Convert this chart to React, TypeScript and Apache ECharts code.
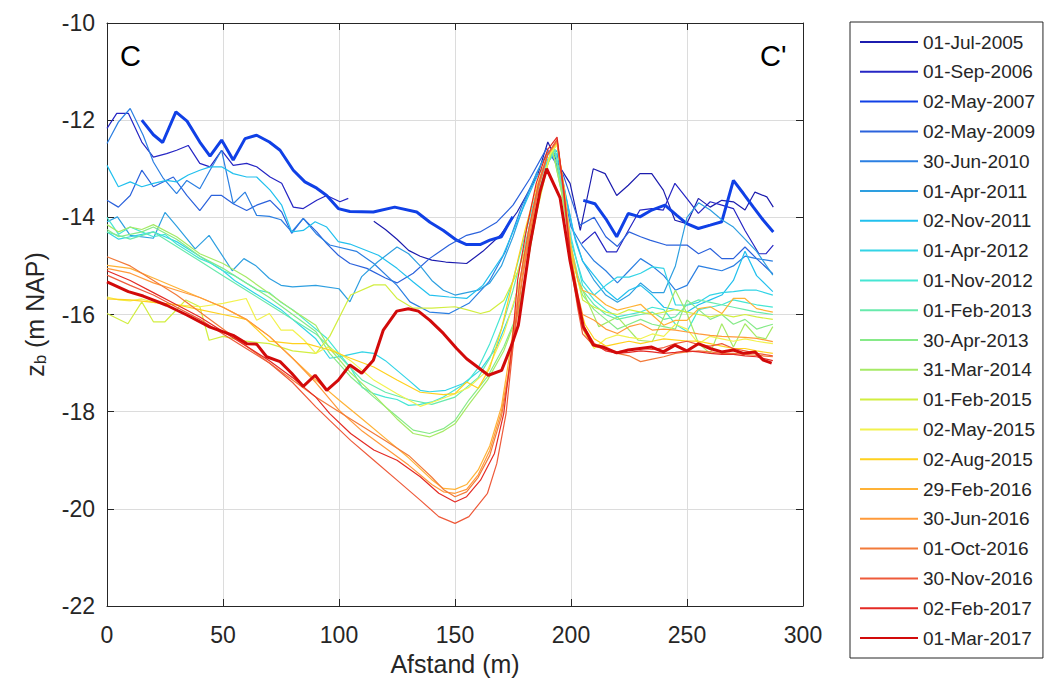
import React, { useEffect, useRef } from "react";
import * as echarts from "echarts";

type Pt = [number, number] | null;

// ---- data (x = Afstand in m, y = z_b in m NAP) ----
const dateLabels = [
  "01-Jul-2005", "01-Sep-2006", "02-May-2007", "02-May-2009", "30-Jun-2010",
  "01-Apr-2011", "02-Nov-2011", "01-Apr-2012", "01-Nov-2012", "01-Feb-2013",
  "30-Apr-2013", "31-Mar-2014", "01-Feb-2015", "02-May-2015", "02-Aug-2015",
  "29-Feb-2016", "30-Jun-2016", "01-Oct-2016", "30-Nov-2016", "02-Feb-2017",
  "01-Mar-2017",
];

const xTicks = [0, 50, 100, 150, 200, 250, 300];
const yTicks = [-22, -20, -18, -16, -14, -12, -10];

const jul2005: Pt[] = [[115,-14.08],[120,-14.25],[125,-14.45],[130,-14.68],[135,-14.8],[140,-14.88],[146,-14.92],[155,-14.95],[162,-14.7],[169.5,-14.37],[176.8,-13.89],[185.6,-13.13],[190,-12.45],[195,-12.95],[199.6,-13.3],[204,-14.27],[209.6,-13.0],[214.7,-13.1],[219.7,-13.55],[224.7,-13.34],[229.7,-13.1],[234.8,-13.1],[239.8,-13.44],[244.8,-14.06],[249.9,-14.13],[254.9,-13.61],[260,-13.79],[265,-13.65],[270,-13.68],[275,-13.85],[279.3,-13.48],[284.4,-13.58],[287.2,-13.79]];
const sep2006: Pt[] = [[0,-12.17],[4.2,-11.86],[9.2,-11.86],[15,-12.45],[20,-12.76],[25.7,-12.69],[30,-12.62],[35,-12.52],[40,-12.89],[44.4,-12.96],[49.4,-12.62],[54.4,-12.93],[60.2,-12.89],[64.5,-12.96],[70.3,-13.17],[75.3,-13.3],[80.3,-13.79],[84.6,-13.82],[90.4,-13.65],[94.7,-13.55],[100.4,-13.68],[104,-13.61],null,[204.6,-14.54],[210.3,-14.3],[215.4,-14.71],[219.7,-14.71],[224.7,-14.27],[229.7,-13.85],[234.8,-13.82],[239.8,-13.85],[244.8,-13.3],[249.9,-13.61],[254.9,-13.92],[260,-13.68],[265,-13.75],[270,-13.82],[275,-14.27],[281,-14.75],[284,-14.75],[287.2,-14.57]];
const may2007: Pt[] = [[15,-12.0],[20,-12.3],[24,-12.46],[29.7,-11.83],[34.5,-12.02],[40,-12.45],[44.4,-12.74],[49.4,-12.41],[54.4,-12.82],[59.5,-12.38],[64.5,-12.31],[70,-12.45],[74.6,-12.62],[80.3,-13.03],[85.3,-13.27],[90.4,-13.4],[94.7,-13.55],[99.7,-13.82],[104.7,-13.88],[114.8,-13.89],[124,-13.79],[133.5,-13.89],[139.2,-14.1],[145,-14.27],[150.7,-14.47],[155,-14.56],[160.8,-14.56],[165,-14.47],[170,-14.4],[172.3,-14.2],[174.9,-13.99],null,[205.3,-13.65],[210.3,-13.72],[215.4,-14.06],[219.7,-14.4],[224.7,-13.92],[229.7,-13.99],[234.8,-13.85],[240.5,-13.75],[245.6,-13.96],[249.9,-14.13],[254.9,-14.23],[260,-14.16],[265,-14.09],[270,-13.24],[274.3,-13.51],[278.6,-13.79],[282.9,-14.06],[287.2,-14.3]];
const may2009: Pt[] = [[0,-13.65],[4.9,-13.79],[10,-13.55],[15,-13.03],[20,-13.37],[28.6,-13.17],[34.4,-13.55],[40,-13.86],[45,-13.55],[49.4,-13.55],[54.4,-13.72],[60.2,-13.86],[64.5,-13.75],[70.3,-13.65],[75.3,-13.89],[79.6,-14.33],[84.6,-14.02],[90.4,-14.3],[94.7,-14.54],[99.7,-14.78],[104.7,-14.95],[112,-15.05],[120,-15.25],[125,-15.35],[132,-15.15],[139,-14.85],[147.5,-14.57],[155,-14.37],[160.8,-14.3],[168,-14.1],[175,-13.75],[182.3,-13.2],[189.5,-12.58],[196.7,-13.13],[203.9,-14.16],[210,-14.0],[215,-14.4],[220,-14.6],[225,-14.3],[230,-14.4],[234,-14.47],[241,-14.57],[250,-14.57],[255,-14.75],[260,-14.64],[265,-14.85],[270,-14.85],[275,-14.61],[280,-14.85],[287,-15.16]];
const jun2010: Pt[] = [[0,-12.48],[4.9,-12.04],[10,-11.76],[15.6,-12.31],[20,-12.86],[24.3,-13.2],[30,-13.51],[34.4,-13.24],[40,-13.41],[44.4,-13.03],[49.4,-12.62],[54.4,-13.72],[59.5,-13.48],[64.5,-13.96],[70,-13.98],[75,-14.05],[79.6,-14.3],[84.6,-14.02],[90.4,-14.35],[96,-14.57],[107.5,-14.7],[115,-14.95],[125,-15.4],[130.6,-15.74],[139,-15.95],[147.5,-15.98],[156,-15.77],[164.6,-15.33],[171.7,-14.71],[178.9,-13.75],[187.5,-12.86],[191.8,-12.62],[196,-13.3],[200,-14.2],[205,-14.6],[210,-14.9],[215,-15.1],[220,-15.35],[225,-15.1],[230,-14.85],[235,-15.0],[240,-15.2],[245,-15.5],[250,-15.4],[255,-15.0],[260,-15.05],[265,-15.1],[270,-15.0],[275,-14.8],[280,-14.85],[287,-14.9]];
const apr2011: Pt[] = [[0,-14.09],[4.5,-13.99],[10,-14.37],[20,-14.43],[25,-13.9],[30,-14.18],[38,-14.65],[44,-14.37],[54,-15.1],[59,-14.85],[64,-14.99],[70,-15.26],[75,-15.4],[80,-15.43],[90,-15.4],[100,-15.47],[104.7,-15.74],[109.8,-15.22],[116.6,-14.92],[125,-14.61],[130,-14.75],[135,-15.0],[140,-15.3],[145,-15.5],[150,-15.6],[155,-15.55],[160,-15.5],[165,-15.35],[170,-15.0],[175,-14.4],[180,-13.7],[185,-13.1],[190,-12.65],[194,-12.7],[197,-13.4],[201,-14.3],[205,-14.9],[210,-15.3],[215,-15.6],[220,-15.75],[225,-15.6],[230,-15.35],[235,-15.55],[240,-15.55],[245,-15.0],[250,-14.0],[255,-13.7],[260,-13.85],[265,-14.05],[270,-14.2],[275,-14.45],[280,-14.7],[287,-15.19]];
const nov2011: Pt[] = [[0,-12.93],[4.9,-13.37],[10,-13.27],[15,-13.37],[20,-13.3],[25.7,-13.24],[30,-13.27],[35,-13.13],[40,-13.03],[44.4,-12.96],[49.4,-12.96],[54.4,-13.1],[60.2,-13.17],[64.5,-13.17],[70.3,-13.44],[75.3,-13.75],[79.6,-14.3],[84.6,-14.27],[89.7,-14.09],[94.7,-14.2],[99.7,-14.5],[104.7,-14.55],[117,-14.78],[125,-15.05],[132,-15.33],[139,-15.6],[147.5,-15.64],[155,-15.67],[162,-15.4],[170.7,-14.78],[178,-13.96],[185.6,-13.13],[194,-12.62],[198,-13.6],[202,-14.5],[205,-14.9],[210,-15.2],[215,-15.5],[220,-15.7],[225,-15.5],[230,-15.4],[235,-15.6],[240,-15.85],[245,-15.9],[250,-15.95],[255,-15.8],[260,-15.7],[265,-15.6],[270,-15.3],[275,-14.7],[280,-15.2],[287,-15.53]];
const apr2012: Pt[] = [[0,-14.3],[5,-14.45],[10,-14.4],[15,-14.35],[20,-14.3],[25,-14.4],[30,-14.5],[35,-14.65],[40,-14.8],[45,-14.95],[50,-15.1],[55,-15.3],[60,-15.45],[65,-15.6],[70,-15.75],[75,-15.9],[80,-16.1],[85,-16.3],[90,-16.5],[96,-16.9],[102,-16.85],[110,-16.77],[115,-16.8],[120,-16.95],[125,-17.15],[130,-17.35],[135,-17.56],[139,-17.59],[146,-17.56],[153.6,-17.42],[160.8,-17.15],[168,-16.67],[175,-15.84],[180,-14.9],[185,-13.8],[190,-12.85],[193,-12.6],[196,-13.4],[200,-14.5],[205,-15.3],[210,-15.6],[215,-15.4],[220,-15.23],[225,-15.23],[230,-15.15],[235,-15.02],[240,-15.05],[245,-15.8],[250,-15.81],[255,-15.75],[260,-15.6],[265,-15.55],[270,-15.53],[275,-15.5],[280,-15.5],[287,-15.6]];
const nov2012: Pt[] = [[0,-14.0],[5,-14.35],[10,-14.2],[15,-14.3],[20,-14.4],[25,-14.35],[30,-14.55],[35,-14.7],[40,-14.85],[45,-14.95],[50,-15.1],[55,-15.2],[60,-15.35],[65,-15.5],[70,-15.55],[75,-15.75],[80,-15.9],[85,-16.1],[90,-16.3],[95,-16.5],[100,-16.8],[105,-17.1],[110,-17.5],[115,-17.63],[120,-17.7],[125,-17.75],[130,-17.87],[135,-17.85],[140,-17.8],[145,-17.7],[150,-17.55],[155,-17.4],[160,-17.1],[165,-16.6],[170,-16.0],[175,-15.3],[180,-14.4],[185,-13.5],[190,-12.8],[193,-12.6],[196,-13.3],[200,-14.4],[203,-15.0],[205,-15.4],[210,-15.7],[215,-15.9],[220,-16.05],[225,-16.0],[230,-15.95],[235,-15.85],[240,-15.9],[245,-16.2],[250,-16.35],[255,-15.9],[260,-15.85],[265,-15.8],[270,-15.7],[275,-15.75],[280,-15.8],[287,-15.85]];
const feb2013: Pt[] = [[0,-14.3],[10,-14.45],[20,-14.3],[30,-14.6],[40,-14.9],[50,-15.2],[60,-15.5],[70,-15.8],[80,-16.1],[90,-16.4],[100,-16.85],[110,-17.35],[120,-17.6],[130,-17.75],[140,-17.85],[150,-17.7],[155,-17.5],[160,-17.3],[165,-16.9],[170,-16.3],[175,-15.5],[180,-14.6],[185,-13.6],[190,-12.9],[193,-12.6],[196,-13.4],[200,-14.6],[203,-15.2],[205,-15.5],[210,-15.8],[215,-16.0],[220,-16.1],[225,-16.05],[230,-16.0],[235,-15.95],[240,-16.1],[245,-16.05],[250,-15.8],[255,-15.7],[260,-15.75],[265,-15.8],[270,-15.85],[275,-15.9],[280,-15.95],[287,-16.0]];
const apr2013: Pt[] = [[0,-14.25],[5,-14.4],[10,-14.35],[15,-14.3],[20,-14.2],[30,-14.45],[40,-14.8],[50,-15.05],[60,-15.35],[70,-15.65],[80,-16.0],[90,-16.35],[96,-16.8],[105,-17.28],[115,-17.7],[125,-18.1],[132,-18.38],[139,-18.45],[145,-18.35],[150,-18.18],[156,-17.76],[164,-17.28],[171,-16.67],[177,-15.98],[180,-15.29],[184,-14.2],[188,-13.2],[192,-12.6],[196,-13.5],[200,-14.7],[203,-15.3],[205,-15.6],[210,-15.9],[215,-16.1],[220,-16.3],[225,-16.2],[230,-16.1],[235,-16.2],[240,-16.25],[245,-16.3],[250,-15.7],[255,-15.9],[260,-16.1],[265,-16.0],[270,-16.2],[275,-16.1],[280,-16.3],[287,-16.2]];
const mar2014: Pt[] = [[0,-14.15],[5,-14.3],[10,-14.2],[15,-14.25],[20,-14.15],[30,-14.4],[40,-14.75],[50,-14.95],[60,-15.23],[70,-15.57],[80,-15.91],[90,-16.22],[96,-16.7],[105,-17.2],[115,-17.65],[125,-18.15],[132,-18.45],[139,-18.52],[145,-18.4],[150,-18.25],[156,-17.85],[164,-17.35],[171,-16.75],[177,-16.0],[180,-15.3],[184,-14.2],[188,-13.2],[192,-12.6],[196,-13.5],[200,-14.7],[203,-15.3],[205,-15.5],[212,-16.25],[220,-16.05],[229,-16.53],[235,-16.56],[240,-16.05],[245,-15.5],[250,-15.98],[255,-16.6],[260,-16.8],[265,-16.19],[270,-16.67],[275,-16.19],[280,-16.46],[284,-16.5],[287,-16.25]];
const feb2015: Pt[] = [[0,-15.98],[9,-16.19],[15,-15.74],[20,-16.15],[25,-16.15],[34,-15.7],[40,-15.84],[44,-16.53],[50,-16.45],[60,-16.55],[70,-16.6],[80,-16.75],[90,-16.8],[96,-16.45],[105,-15.6],[115,-15.39],[120,-15.39],[125,-15.67],[132,-15.87],[140,-15.87],[150,-15.84],[155,-15.9],[161,-15.98],[165,-15.93],[171,-15.71],[177,-15.12],[181,-14.57],[186,-13.75],[191,-12.7],[194,-12.5],[197,-13.4],[200,-14.6],[203,-15.3],[205,-15.7],[210,-15.85],[215,-15.95],[220,-16.0],[225,-15.9],[230,-15.95],[235,-16.0],[240,-15.95],[245,-15.9],[250,-15.95],[255,-16.0],[260,-16.05],[265,-16.0],[270,-16.05],[275,-16.0],[280,-16.05],[287,-16.1]];
const may2015: Pt[] = [[0,-15.64],[5,-15.7],[10,-15.72],[15,-15.68],[20,-15.75],[30,-15.8],[40,-15.84],[50,-15.77],[60,-15.67],[64.5,-16.12],[70,-15.98],[75,-16.32],[80,-16.32],[85,-16.53],[90,-16.8],[95,-16.67],[100,-16.8],[105,-16.95],[115,-17.35],[125,-17.63],[135,-17.89],[143,-17.76],[150,-17.63],[156,-17.5],[164,-17.15],[171,-16.4],[177,-15.5],[181,-14.6],[186,-13.6],[191,-12.7],[194,-12.5],[197,-13.5],[200,-14.8],[203,-15.8],[206,-16.4],[210,-16.7],[215,-16.5],[220,-16.42],[225,-16.47],[230,-16.5],[235,-16.4],[240,-16.45],[245,-16.2],[250,-16.3],[255,-16.6],[260,-16.45],[265,-16.5],[270,-16.55],[275,-16.5],[280,-16.55],[287,-16.6]];
const aug2015: Pt[] = [[0,-15.68],[10,-15.7],[20,-15.75],[30,-15.8],[40,-15.9],[50,-16.0],[60,-16.1],[70,-16.55],[80,-16.6],[86,-16.6],[96,-16.73],[105,-16.9],[115,-17.08],[125,-17.35],[135,-17.6],[145,-17.65],[150,-17.63],[155,-17.39],[160,-17.52],[165,-17.1],[170,-16.3],[175,-15.3],[180,-14.3],[185,-13.4],[190,-12.7],[194,-12.45],[197,-13.4],[200,-14.7],[203,-15.7],[206,-16.2],[210,-16.5],[215,-16.65],[220,-16.6],[225,-16.55],[230,-16.6],[235,-16.55],[240,-16.5],[250,-16.55],[255,-16.55],[260,-16.6],[265,-16.65],[270,-16.7],[275,-16.7],[280,-16.75],[287,-16.8]];
const feb2016: Pt[] = [[0,-14.99],[10,-15.05],[20,-15.25],[30,-15.45],[40,-15.65],[50,-15.85],[60,-16.1],[70,-16.45],[80,-16.9],[90,-17.35],[100,-17.76],[110,-18.15],[120,-18.55],[130,-18.95],[140,-19.4],[145,-19.58],[150,-19.6],[155,-19.5],[160,-19.2],[165,-18.7],[170,-17.9],[173,-17.0],[176,-16.0],[179,-15.0],[182,-14.2],[186,-13.3],[190,-12.7],[194,-12.45],[197,-13.4],[200,-14.6],[203,-15.3],[205,-15.5],[210,-15.6],[215,-15.8],[220,-15.91],[225,-15.85],[230,-15.79],[235,-16.01],[240,-16.22],[245,-16.12],[250,-16.12],[255,-15.88],[260,-15.84],[265,-15.98],[270,-15.67],[275,-15.67],[280,-15.88],[287,-15.95]];
const jun2016: Pt[] = [[0,-15.05],[10,-15.15],[20,-15.35],[30,-15.5],[40,-15.65],[50,-15.85],[60,-16.1],[70,-16.45],[80,-16.9],[90,-17.4],[100,-17.97],[110,-18.4],[120,-18.75],[130,-19.1],[140,-19.5],[145,-19.65],[150,-19.68],[155,-19.6],[160,-19.3],[165,-18.8],[170,-18.0],[173,-17.2],[176,-16.2],[179,-15.2],[182,-14.3],[186,-13.3],[190,-12.7],[194,-12.45],[197,-13.5],[200,-14.8],[203,-15.6],[205,-16.0],[210,-16.12],[215,-16.3],[220,-16.39],[225,-16.25],[230,-16.19],[235,-16.32],[240,-16.3],[245,-16.32],[250,-16.36],[255,-16.4],[260,-16.43],[265,-16.45],[270,-16.46],[275,-16.47],[280,-16.49],[287,-16.56]];
const oct2016: Pt[] = [[0,-14.81],[10,-15.0],[20,-15.3],[30,-15.6],[40,-15.95],[50,-16.3],[60,-16.65],[70,-17.0],[80,-17.35],[90,-17.7],[100,-18.0],[110,-18.3],[120,-18.6],[130,-18.9],[140,-19.35],[145,-19.6],[150,-19.75],[155,-19.65],[160,-19.35],[165,-18.9],[170,-18.1],[173,-17.3],[176,-16.3],[179,-15.3],[182,-14.4],[186,-13.4],[190,-12.7],[194,-12.4],[197,-13.5],[200,-14.9],[203,-15.8],[205,-16.3],[210,-16.6],[215,-16.7],[220,-16.8],[225,-16.85],[230,-16.97],[235,-16.92],[240,-16.87],[245,-16.8],[250,-16.77],[255,-16.75],[260,-16.77],[265,-16.8],[270,-16.8],[275,-16.82],[280,-16.84],[287,-16.87]];
const nov2016: Pt[] = [[0,-15.19],[10,-15.4],[20,-15.6],[30,-15.85],[40,-16.1],[50,-16.4],[60,-16.7],[70,-17.0],[80,-17.4],[90,-17.9],[96,-18.18],[105,-18.59],[115,-19.0],[125,-19.41],[135,-19.82],[143,-20.16],[150,-20.3],[156,-20.16],[164,-19.68],[168,-19.07],[172,-18.04],[175,-16.67],[178,-15.29],[182,-14.2],[186,-13.3],[190,-12.7],[194,-12.4],[197,-13.6],[200,-15.0],[203,-15.9],[205,-16.4],[210,-16.65],[215,-16.72],[220,-16.77],[225,-16.73],[230,-16.7],[235,-16.72],[240,-16.68],[245,-16.6],[250,-16.55],[255,-16.62],[260,-16.65],[265,-16.6],[270,-16.7],[275,-16.75],[280,-16.8],[287,-16.85]];
const feb2017: Pt[] = [[0,-15.1],[10,-15.3],[20,-15.55],[30,-15.8],[40,-16.05],[50,-16.35],[60,-16.65],[70,-16.95],[80,-17.3],[90,-17.7],[96,-18.04],[105,-18.45],[115,-18.79],[125,-19.0],[135,-19.34],[143,-19.68],[150,-19.86],[155,-19.75],[161,-19.41],[167,-18.86],[171,-18.04],[174.5,-16.67],[177,-15.29],[181,-14.2],[185,-13.3],[190,-12.6],[194,-12.35],[197,-13.5],[200,-14.9],[203,-15.8],[205,-16.2],[210,-16.6],[215,-16.75],[220,-16.8],[225,-16.78],[230,-16.75],[235,-16.77],[240,-16.8],[245,-16.78],[250,-16.75],[255,-16.77],[260,-16.8],[265,-16.82],[270,-16.82],[275,-16.85],[280,-16.87],[287,-16.95]];
const mar2017: Pt[] = [[0,-15.33],[9.2,-15.53],[15.6,-15.62],[25.7,-15.81],[34.4,-16.01],[44.4,-16.26],[54.4,-16.43],[60.2,-16.6],[64.5,-16.61],[68.8,-16.87],[74.6,-16.97],[79.6,-17.21],[84.6,-17.48],[89.7,-17.25],[94.7,-17.56],[99.7,-17.35],[104.7,-17.04],[109.8,-17.21],[114.8,-16.94],[119.1,-16.32],[124.9,-15.93],[129.9,-15.88],[134.2,-15.93],[139.2,-16.12],[145,-16.39],[150.7,-16.7],[155,-16.91],[160,-17.09],[164.4,-17.25],[170.1,-17.15],[174.4,-16.63],[177.3,-16.22],[182.3,-14.57],[186.6,-13.48],[189.5,-13.0],[195.3,-13.6],[199.6,-14.9],[205.3,-16.25],[209.6,-16.63],[213.9,-16.67],[219.7,-16.79],[224.7,-16.73],[229.7,-16.7],[234.8,-16.67],[239.8,-16.77],[244.8,-16.63],[249.9,-16.75],[254.9,-16.6],[260,-16.7],[265,-16.77],[270,-16.73],[274.3,-16.8],[279.3,-16.77],[282.9,-16.94],[286.5,-17.0]];

const seriesData: Pt[][] = [
  jul2005, sep2006, may2007, may2009, jun2010, apr2011, nov2011, apr2012,
  nov2012, feb2013, apr2013, mar2014, feb2015, may2015, aug2015, feb2016,
  jun2016, oct2016, nov2016, feb2017, mar2017,
];

// ---- styles ----
const lineColors = [
  "#1c1cae", "#2626c4", "#1040e6", "#2b62dc", "#2b7fe2", "#2e9fe0", "#22c0ee",
  "#33d4e6", "#46e6d4", "#68eaac", "#86ea88", "#a6ea66", "#d2ee40", "#f2f24e",
  "#ffd11e", "#ffb236", "#ff9a3a", "#f27a3a", "#ee5a3a", "#e42a24", "#d20a0a",
];
const thickIdx = [2, 20];

const FONT = "'Liberation Sans', Arial, Helvetica, sans-serif";
const INK = "#262626";

export default function App() {
  const ref = useRef<HTMLDivElement>(null);
  useEffect(() => {
    if (!ref.current) return;
    const chart = echarts.init(ref.current, null, { renderer: "svg" });
    const axisLineStyle = { color: INK, width: 1 };
    const baseX = {
      type: "value" as const,
      min: xTicks[0],
      max: xTicks[xTicks.length - 1],
      interval: 50,
    };
    const baseY = {
      type: "value" as const,
      min: yTicks[0],
      max: yTicks[yTicks.length - 1],
      interval: 2,
    };
    chart.setOption({
      animation: false,
      backgroundColor: "#ffffff",
      textStyle: { fontFamily: FONT },
      grid: { left: 107, right: 244, top: 23, bottom: 80, containLabel: false },
      xAxis: [
        {
          ...baseX,
          position: "bottom",
          axisLine: { show: true, onZero: false, lineStyle: axisLineStyle },
          axisTick: { show: true, inside: true, length: 7, lineStyle: axisLineStyle },
          axisLabel: { show: true, fontSize: 23, color: INK, margin: 17, fontFamily: FONT },
          splitLine: { show: true, lineStyle: { color: "#dcdcdc", width: 1 } },
          name: "Afstand (m)",
          nameLocation: "middle",
          nameGap: 45,
          nameTextStyle: { fontSize: 25, color: INK, fontFamily: FONT },
        },
        {
          ...baseX,
          position: "top",
          axisLine: { show: true, onZero: false, lineStyle: axisLineStyle },
          axisTick: { show: true, inside: true, length: 7, lineStyle: axisLineStyle },
          axisLabel: { show: false },
          splitLine: { show: false },
        },
      ],
      yAxis: [
        {
          ...baseY,
          position: "left",
          axisLine: { show: true, onZero: false, lineStyle: axisLineStyle },
          axisTick: { show: true, inside: true, length: 7, lineStyle: axisLineStyle },
          axisLabel: { show: true, fontSize: 23, color: INK, margin: 12, fontFamily: FONT },
          splitLine: { show: true, lineStyle: { color: "#dcdcdc", width: 1 } },
          name: "{i|z}{s|b}{i| (m NAP)}",
          nameLocation: "middle",
          nameRotate: 90,
          nameGap: 58,
          nameTextStyle: {
            fontSize: 25,
            color: INK,
            fontFamily: FONT,
            rich: {
              i: { fontSize: 25, color: INK, fontFamily: FONT, lineHeight: 28 },
              s: { fontSize: 17, color: INK, fontFamily: FONT, lineHeight: 10, verticalAlign: "bottom" },
            },
          },
        },
        {
          ...baseY,
          position: "right",
          axisLine: { show: true, onZero: false, lineStyle: axisLineStyle },
          axisTick: { show: true, inside: true, length: 7, lineStyle: axisLineStyle },
          axisLabel: { show: false },
          splitLine: { show: false },
        },
      ],
      legend: {
        show: true,
        data: dateLabels,
        orient: "vertical",
        left: 850,
        top: 22,
        itemWidth: 58,
        itemHeight: 1,
        itemGap: 10.8,
        padding: [10.5, 8, 10.5, 9],
        borderColor: INK,
        borderWidth: 1,
        selectedMode: false,
        textStyle: { fontSize: 19, color: INK, fontFamily: FONT },
      },
      graphic: [
        {
          type: "text",
          left: 120,
          top: 41,
          style: { text: "C", fontSize: 29, fill: "#000", fontFamily: FONT },
        },
        {
          type: "text",
          left: 760,
          top: 41,
          style: { text: "C'", fontSize: 29, fill: "#000", fontFamily: FONT },
        },
      ],
      series: seriesData.map((d, i) => ({
        name: dateLabels[i],
        type: "line",
        xAxisIndex: 0,
        yAxisIndex: 0,
        data: d,
        symbol: "none",
        showSymbol: false,
        connectNulls: false,
        silent: true,
        clip: true,
        lineStyle: { color: lineColors[i], width: thickIdx.includes(i) ? 3 : 1.2 },
        itemStyle: { color: lineColors[i] },
        emphasis: { disabled: true },
      })),
    });
    return () => chart.dispose();
  }, []);
  return (
    <div
      ref={ref}
      style={{ position: "fixed", left: 0, top: 0, width: 1047, height: 686, background: "#fff" }}
    />
  );
}
